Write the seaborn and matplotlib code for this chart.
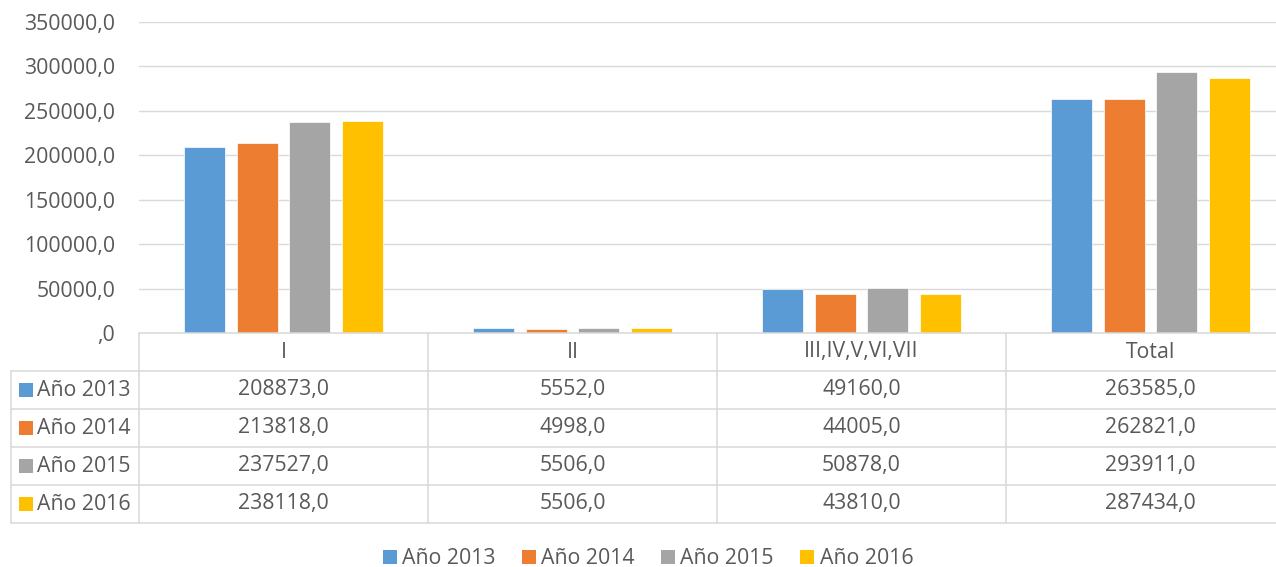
import matplotlib
matplotlib.use("Agg")
import matplotlib.pyplot as plt
import seaborn as sns
import pandas as pd
from matplotlib.patches import Rectangle

# ---- data ----
categories = ["I", "II", "III,IV,V,VI,VII", "Total"]
series = ["Año 2013", "Año 2014", "Año 2015", "Año 2016"]
values_2013 = [208873, 5552, 49160, 263585]
values_2014 = [213818, 4998, 44005, 262821]
values_2015 = [237527, 5506, 50878, 293911]
values_2016 = [238118, 5506, 43810, 287434]
y_ticks = [0, 50000, 100000, 150000, 200000, 250000, 300000, 350000]
y_tick_labels = [",0", "50000,0", "100000,0", "150000,0", "200000,0",
                 "250000,0", "300000,0", "350000,0"]
colors = ["#5B9BD5", "#ED7D31", "#A5A5A5", "#FFC000"]

all_values = [values_2013, values_2014, values_2015, values_2016]
rows = []
for s, vals in zip(series, all_values):
    for c, v in zip(categories, vals):
        rows.append({"cat": c, "serie": s, "val": v})
df = pd.DataFrame(rows)

sns.set_theme(style="white")
plt.rcParams["font.family"] = ["Open Sans", "DejaVu Sans"]
FS = 15.3
TXT = "#595959"
GRID = "#D9D9D9"

W, H = 1276, 567
fig = plt.figure(figsize=(W / 100, H / 100), dpi=100)
fig.patch.set_facecolor("white")

def fx(px):
    return px / W

def fy(py):
    return 1 - py / H

# plot area (extends past the right edge like the original crop)
L, R = 139, 1295
TOP, BOT = 22, 333
ax = fig.add_axes([fx(L), fy(BOT), (R - L) / W, (BOT - TOP) / H])
sns.barplot(data=df, x="cat", y="val", hue="serie", order=categories,
            hue_order=series, palette=colors, width=0.725, gap=0.217,
            edgecolor="white", linewidth=0.5, saturation=1, ax=ax,
            legend=False)
ax.set_xlim(-0.5, len(categories) - 0.5)
ax.set_ylim(0, 350000)
ax.set_yticks(y_ticks)
ax.set_yticklabels(y_tick_labels, fontsize=FS, color=TXT)
ax.tick_params(axis="y", length=0, pad=17)
ax.set_xticks([])
ax.set_xlabel("")
ax.set_ylabel("")
for sp in ax.spines.values():
    sp.set_visible(False)
ax.set_axisbelow(True)
ax.yaxis.grid(True, color=GRID, linewidth=1.0)
ax.xaxis.grid(False)

# data table
TB = 523
tax = fig.add_axes([fx(L), fy(TB), (R - L) / W, (TB - BOT) / H])
tax.set_xlim(-0.5, len(categories) - 0.5)
nrows = len(series) + 1
tax.set_ylim(nrows, 0)
tax.axis("off")
left_x = -0.5 - (L - 11) / ((R - L) / len(categories))
lw = 1.1
# horizontal lines
tax.plot([-0.5, len(categories) - 0.5], [0, 0], color=GRID, lw=lw, clip_on=False)
for r in range(1, nrows + 1):
    tax.plot([left_x, len(categories) - 0.5], [r, r], color=GRID, lw=lw,
             clip_on=False)
# vertical lines
for i in range(len(categories) + 1):
    tax.plot([i - 0.5, i - 0.5], [0, nrows], color=GRID, lw=lw, clip_on=False)
tax.plot([left_x, left_x], [1, nrows], color=GRID, lw=lw, clip_on=False)

for i, c in enumerate(categories):
    tax.text(i, 0.5, c, ha="center", va="center", fontsize=FS, color=TXT)
for r, (s, vals) in enumerate(zip(series, all_values), start=1):
    for i, v in enumerate(vals):
        tax.text(i, r + 0.5, f"{v:.1f}".replace(".", ","), ha="center",
                 va="center", fontsize=FS, color=TXT)
    cy = BOT + (TB - BOT) / nrows * (r + 0.5)
    fig.patches.append(Rectangle((fx(19), fy(cy + 7)), 14 / W, 14 / H,
                                 transform=fig.transFigure,
                                 facecolor=colors[r - 1], edgecolor="none"))
    fig.text(fx(37), fy(cy), s, ha="left", va="center", fontsize=FS, color=TXT)

# bottom legend
handles = [Rectangle((0, 0), 1, 1, facecolor=c, edgecolor="none") for c in colors]
fig.legend(handles, series, loc="center", bbox_to_anchor=(fx(648), fy(559)),
           ncol=4, frameon=False, fontsize=FS, labelcolor=TXT,
           handlelength=0.65, handleheight=0.65, handletextpad=0.25,
           columnspacing=1.25, borderpad=0)

fig.savefig("out.png", dpi=100, facecolor="white")
